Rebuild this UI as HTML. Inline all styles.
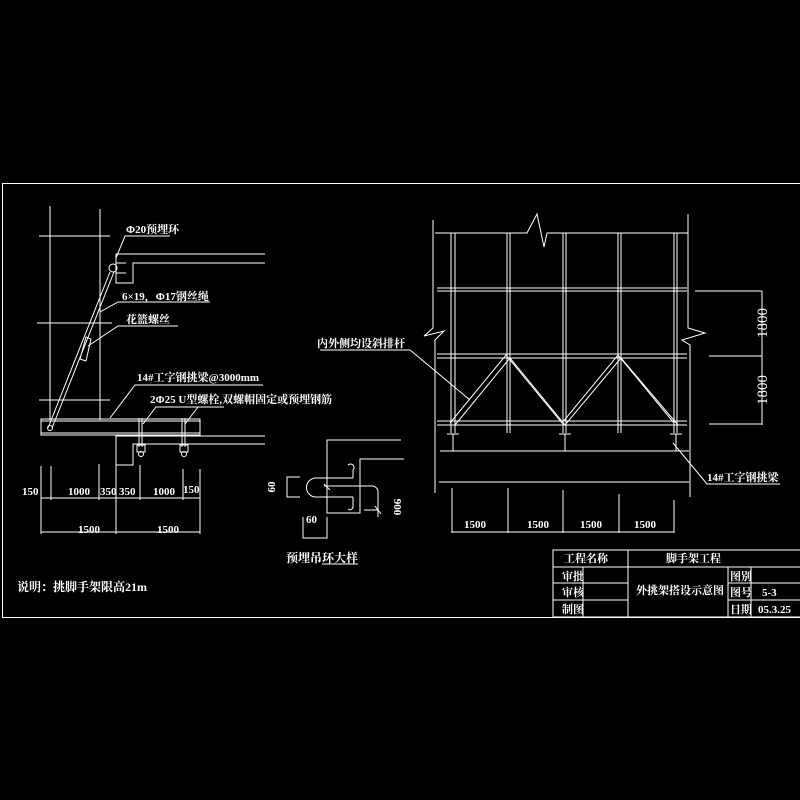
<!DOCTYPE html>
<html><head><meta charset="utf-8"><style>
html,body{margin:0;padding:0;background:#000;}
svg{display:block}
text{font-family:"Liberation Serif","Noto Serif CJK SC","Noto Sans CJK SC",serif;fill:#fff;font-size:11px;font-weight:bold}
</style></head><body>
<svg width="800" height="800" viewBox="0 0 800 800" xmlns="http://www.w3.org/2000/svg">
<g stroke="#fff" stroke-width="1" fill="none">
<!-- frame -->
<rect x="2.5" y="183.5" width="800" height="434"/>
<!-- LEFT DRAWING -->
<line x1="50" y1="206" x2="50" y2="420"/>
<line x1="100" y1="209" x2="100" y2="420"/>
<line x1="39" y1="236" x2="110" y2="236"/>
<line x1="37" y1="323" x2="112" y2="323"/>
<line x1="39" y1="400" x2="110" y2="400"/>
<polyline points="265,254 116,254 116,283 133,283 133,263 265,263"/>
<line x1="116" y1="263" x2="126" y2="263"/><line x1="116" y1="273" x2="126" y2="273"/>
<circle cx="113" cy="268" r="4"/>
<line x1="110" y1="272" x2="48" y2="428"/>
<line x1="114" y1="272" x2="52" y2="428"/>
<polygon points="86,337 91,339 86,361 80,359"/>
<circle cx="50" cy="428" r="2.5"/>
<rect x="41" y="419" width="159" height="16"/>
<line x1="41" y1="421" x2="200" y2="421"/><line x1="41" y1="433" x2="200" y2="433"/>
<polyline points="265,436 116,436 116,465 133,465 133,444 265,444"/>
<line x1="139" y1="418" x2="139" y2="447"/><line x1="142" y1="418" x2="142" y2="447"/>
<line x1="182" y1="418" x2="182" y2="447"/><line x1="185" y1="418" x2="185" y2="447"/>
<rect x="137" y="445" width="8" height="7"/><rect x="180" y="445" width="8" height="7"/>
<circle cx="141" cy="454" r="2.5"/><circle cx="184" cy="454" r="2.5"/>
<!-- leaders -->
<polyline points="116,258 125,236 170,236"/>
<polyline points="100,312 118,302 210,302"/>
<polyline points="88,346 118,326 178,326"/>
<polyline points="110,418 135,385 263,385"/>
<polyline points="143,424 156,407 224,407"/>
<line x1="185" y1="424" x2="198" y2="407"/>
<!-- dims -->
<line x1="41" y1="498" x2="200" y2="498"/>
<line x1="41" y1="466" x2="41" y2="500"/><line x1="51" y1="466" x2="51" y2="500"/>
<line x1="99" y1="464" x2="99" y2="500"/><line x1="116" y1="465" x2="116" y2="534"/>
<line x1="140" y1="465" x2="140" y2="500"/><line x1="183" y1="469" x2="183" y2="500"/>
<line x1="200" y1="469" x2="200" y2="534"/><line x1="41" y1="498" x2="41" y2="534"/>
<line x1="41" y1="532" x2="200" y2="532"/>
<!-- ring detail -->
<polyline points="401,440 327,440 327,513 360,513 360,459 404,459"/>
<polyline points="300,477 287,477 287,497 300,497"/>
<path d="M353,478 L316,478 A9.5,9.5 0 0 0 316,497 L353,497"/>
<path d="M353,478 L353,470 A3,3 0 0 0 348,465"/>
<path d="M353,497 L353,507 A3,3 0 0 1 348,509"/>
<path d="M324,486 L372,486 A6,6 0 0 1 378,492 L378,517"/>
<line x1="364" y1="510" x2="378" y2="510"/><line x1="375" y1="506" x2="381" y2="514"/>
<line x1="324" y1="484" x2="330" y2="490"/>
<polyline points="303,517 303,538 327,538 327,517"/>
<line x1="322" y1="564" x2="358" y2="564"/>
<!-- RIGHT DRAWING -->
<polyline points="433,220 433,328 424,336 444,331 435,340 435,493"/>
<polyline points="688,214 688,328 705,333 682,340 690,345 690,497"/>
<polyline points="435,233 527,233 537,214 544,247 547,233 688,233"/>
<g>
<line x1="451" y1="233" x2="451" y2="433"/><line x1="455" y1="233" x2="455" y2="433"/>
<line x1="507" y1="233" x2="507" y2="433"/><line x1="510" y1="233" x2="510" y2="433"/>
<line x1="563" y1="233" x2="563" y2="433"/><line x1="566" y1="233" x2="566" y2="433"/>
<line x1="618" y1="233" x2="618" y2="433"/><line x1="621" y1="233" x2="621" y2="433"/>
<line x1="674" y1="233" x2="674" y2="433"/><line x1="677" y1="233" x2="677" y2="433"/>
</g>
<line x1="437" y1="288" x2="687" y2="288"/><line x1="437" y1="291" x2="687" y2="291"/>
<line x1="437" y1="354" x2="687" y2="354"/><line x1="437" y1="358" x2="687" y2="358"/>
<line x1="437" y1="421" x2="687" y2="421"/><line x1="437" y1="425" x2="687" y2="425"/>
<polyline points="450,423 506,355 562,423 618,355 674,423"/>
<polyline points="455,425 510,358 565,425 621,358 678,425"/>
<line x1="447" y1="434" x2="459" y2="434"/><line x1="453" y1="434" x2="453" y2="451"/>
<line x1="559" y1="434" x2="571" y2="434"/><line x1="565" y1="434" x2="565" y2="451"/>
<line x1="670" y1="434" x2="682" y2="434"/><line x1="676" y1="434" x2="676" y2="451"/>
<line x1="440" y1="451" x2="689" y2="451"/>
<line x1="439" y1="482" x2="689" y2="482"/>
<line x1="452" y1="488" x2="452" y2="533"/><line x1="508" y1="488" x2="508" y2="533"/>
<line x1="563" y1="490" x2="563" y2="533"/><line x1="619" y1="494" x2="619" y2="533"/>
<line x1="674" y1="500" x2="674" y2="533"/>
<line x1="452" y1="532" x2="674" y2="532"/>
<line x1="695" y1="291" x2="762" y2="291"/><line x1="709" y1="356" x2="762" y2="356"/>
<line x1="709" y1="424" x2="762" y2="424"/><line x1="762" y1="291" x2="762" y2="425"/>
<polyline points="320,350 410,350 470,400"/>
<polyline points="673,443 707,484 780,484"/>
<!-- title block -->
<rect x="553" y="550" width="250" height="67"/>
<line x1="553" y1="567" x2="800" y2="567"/>
<line x1="553" y1="583" x2="628" y2="583"/><line x1="553" y1="600" x2="628" y2="600"/>
<line x1="728" y1="583" x2="800" y2="583"/><line x1="728" y1="600" x2="800" y2="600"/>
<line x1="628" y1="550" x2="628" y2="617"/><line x1="583" y1="567" x2="583" y2="617"/>
<line x1="728" y1="567" x2="728" y2="617"/><line x1="751" y1="567" x2="751" y2="617"/>
</g>
<text x="126" y="233">Φ20预埋环</text>
<text x="122" y="300">6×19，Φ17钢丝绳</text>
<text x="126" y="323">花篮螺丝</text>
<text x="137" y="381">14#工字钢挑梁@3000mm</text>
<text x="150" y="403">2Φ25 U型螺栓,双螺帽固定或预埋钢筋</text>
<text x="22" y="495">150</text><text x="68" y="495">1000</text><text x="100" y="495">350</text>
<text x="119" y="495">350</text><text x="153" y="495">1000</text><text x="183" y="493">150</text>
<text x="78" y="533">1500</text><text x="157" y="533">1500</text>
<text x="0" y="0" transform="translate(275,487) rotate(-90)" text-anchor="middle">60</text>
<text x="306" y="523">60</text>
<text x="0" y="0" transform="translate(394,507) rotate(90)" text-anchor="middle">900</text>
<text x="286" y="562" style="font-size:12px">预埋吊环大样</text>
<text x="17" y="591" style="font-size:12px">说明：挑脚手架限高21m</text>
<text x="317" y="347">内外侧均设斜排杆</text>
<text x="707" y="481">14#工字钢挑梁</text>
<text x="0" y="0" transform="translate(767,323) rotate(-90)" text-anchor="middle" style="font-size:15px;font-weight:normal">1800</text>
<text x="0" y="0" transform="translate(767,390) rotate(-90)" text-anchor="middle" style="font-size:15px;font-weight:normal">1800</text>
<text x="464" y="528">1500</text><text x="527" y="528">1500</text>
<text x="580" y="528">1500</text><text x="634" y="528">1500</text>
<text x="564" y="562">工程名称</text><text x="666" y="562">脚手架工程</text>
<text x="562" y="580">审批</text><text x="562" y="596">审核</text><text x="562" y="613">制图</text>
<text x="636" y="594">外挑架搭设示意图</text>
<text x="730" y="580">图别</text><text x="730" y="596">图号</text><text x="730" y="613">日期</text>
<text x="762" y="596">5-3</text><text x="758" y="613">05.3.25</text>
</svg>
</body></html>
